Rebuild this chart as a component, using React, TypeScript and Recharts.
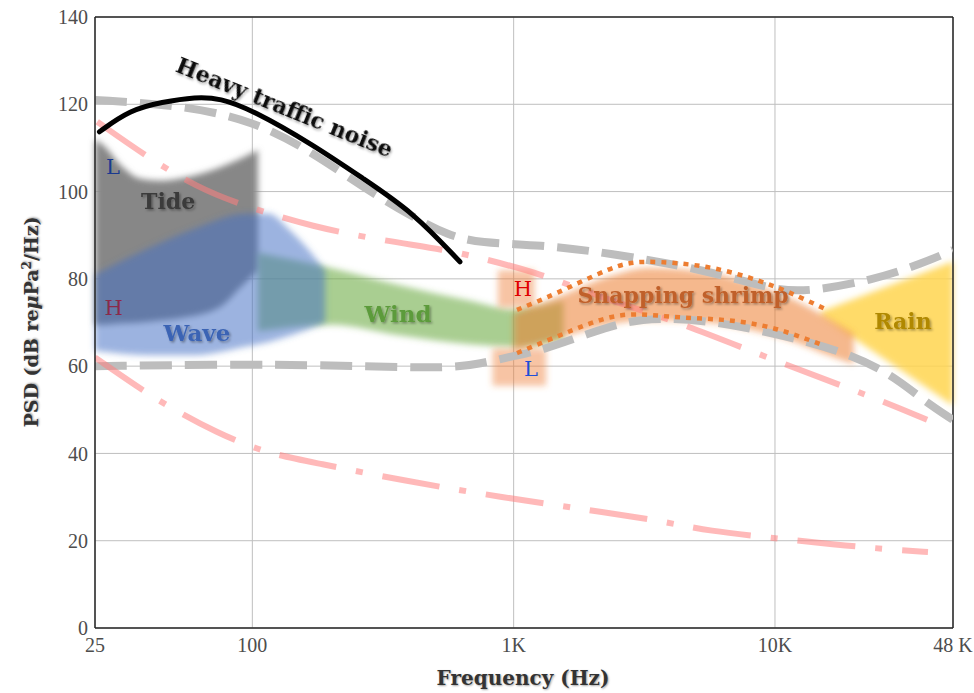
import React from "react";
import {
  Area,
  CartesianGrid,
  ComposedChart,
  Line,
  ReferenceDot,
  ReferenceLine,
  XAxis,
  YAxis,
} from "recharts";

// [frequency Hz, level dB]
type Pt = [number, number];
// [frequency Hz, low dB, high dB]
type Band = [number, number, number];

const X_TICKS = [25, 100, 1000, 10000, 48000];
const X_TICK_LABELS: Record<number, string> = {
  25: "25",
  100: "100",
  1000: "1K",
  10000: "10K",
  48000: "48 K",
};
const Y_TICKS = [0, 20, 40, 60, 80, 100, 120, 140];

// Wenz-style limits (grey dashed)
const WENZ_HIGH: Pt[] = [
  [25, 121], [53, 119.8], [100, 116.4], [170, 109], [265, 101], [410, 94.2],
  [560, 90], [740, 88.2], [1260, 87.8], [2280, 86], [5500, 82], [9800, 77.5],
  [13300, 77], [23700, 79.7], [36900, 83.6], [48000, 86.6],
];
const WENZ_LOW: Pt[] = [
  [25, 60], [100, 60.5], [265, 60], [560, 59.5], [740, 60.5], [1030, 62.5],
  [1260, 63.5], [1960, 67.6], [3050, 71.3], [5500, 70.6], [9800, 67.6],
  [17700, 63.7], [27600, 58.4], [36900, 52.2], [48000, 47.7],
];

// ambient limits (pink dash-dot)
const AMBIENT_HIGH: Pt[] = [
  [25.5, 116], [39.5, 108], [61, 101], [95, 96.5], [171, 91.9], [308, 88.9],
  [556, 86.6], [744, 84.8], [1260, 81.3], [2280, 75.2], [4070, 70.6],
  [9830, 61.4], [23700, 52.9], [38200, 47.7],
];
const AMBIENT_LOW: Pt[] = [
  [25, 62], [38, 54.5], [47, 51], [73, 44.7], [114, 40], [177, 37.8],
  [367, 33.9], [887, 30], [2360, 26.3], [3830, 24.3], [5450, 22.3],
  [10700, 20.4], [17700, 19], [30100, 17.8], [38500, 17.4],
];

const TRAFFIC: Pt[] = [
  [26, 113.7], [34, 118.7], [45, 120.5], [61, 121.7], [75, 121.4],
  [100, 118.7], [171, 110.7], [265, 103], [412, 95.3], [623, 83.9],
];

// snapping shrimp limits (orange dotted)
const SHRIMP_HIGH: Pt[] = [
  [1030, 72.9], [1466, 76.8], [2280, 82], [3240, 83.9], [5500, 82.7],
  [8540, 79.7], [11420, 76.8], [15830, 72.9],
];
const SHRIMP_LOW: Pt[] = [
  [1030, 63], [1690, 68.3], [2620, 71.7], [4070, 71.3], [6330, 70.6],
  [9830, 68.7], [15280, 64.8],
];

// shaded source regions
const TIDE: Band[] = [
  [25, 69.5, 112], [27, 69.5, 110.5], [32, 69.8, 105.5], [37, 70, 103],
  [45, 70.5, 102.5], [53, 71, 103], [75, 73.5, 105.5], [90, 78, 107.5],
  [105, 82, 109.5],
];
const WAVE: Band[] = [
  [25, 63.5, 81], [40, 62.5, 87], [60, 62.5, 91.5], [95, 64.5, 95],
  [115, 65.5, 95], [140, 67, 91], [190, 70, 82],
];
const WIND: Band[] = [
  [105, 68, 86], [200, 69.5, 82.5], [370, 67, 78.5], [680, 65, 75],
  [1000, 64.5, 73], [1550, 66, 75],
];
const SHRIMP: Band[] = [
  [1000, 63.5, 72], [1500, 66.5, 76], [2300, 69.5, 80.5], [3300, 70.5, 82.5],
  [5500, 70, 81.5], [8500, 68, 78.5], [12000, 65.5, 75], [16000, 62.5, 71],
  [20000, 60.5, 67.5],
];
const SHRIMP_H_PATCH: Band[] = [[870, 73.5, 82], [1200, 73.5, 82]];
const SHRIMP_L_PATCH: Band[] = [[830, 55.5, 64], [1330, 55.5, 64]];
const RAIN: Band[] = [[15000, 71.5, 72.5], [48000, 51, 84]];

const line = (pts: Pt[]) => pts.map(([f, v]) => ({ f, v }));
const band = (b: Band[]) => b.map(([f, lo, hi]) => ({ f, v: [lo, hi] }));

const SERIF = "'DejaVu Serif', serif";

function tag(
  text: string,
  color: string,
  size: number,
  weight: "bold" | "normal" = "bold",
  angle = 0
) {
  return (p: any) => (
    <text
      x={p.cx}
      y={p.cy}
      transform={angle ? `rotate(${angle} ${p.cx} ${p.cy})` : undefined}
      textAnchor="middle"
      dominantBaseline="central"
      fill={color}
      fontSize={size}
      fontWeight={weight}
      fontFamily={SERIF}
      filter={weight === "bold" ? "url(#shade)" : undefined}
    >
      {text}
    </text>
  );
}

export default function App() {
  return (
    <div style={{ position: "absolute", left: 0, top: 0, width: 974, height: 693, background: "#fff" }}>
      <style>{`.soft { filter: url(#soft); }`}</style>
      <svg width={0} height={0} style={{ position: "absolute" }}>
        <defs>
          <filter id="soft" x="-20%" y="-20%" width="140%" height="140%">
            <feGaussianBlur stdDeviation="3" />
          </filter>
          <filter id="shade" x="-10%" y="-40%" width="130%" height="180%">
            <feDropShadow dx="1.5" dy="1.5" stdDeviation="1" floodColor="#000" floodOpacity="0.35" />
          </filter>
        </defs>
      </svg>

      <ComposedChart width={974} height={693} margin={{ top: 17, right: 21, bottom: 35, left: 0 }}>
        <CartesianGrid stroke="#bfbfbf" strokeWidth={1} />
        <XAxis
          dataKey="f"
          type="number"
          scale="log"
          domain={[25, 48000]}
          allowDataOverflow
          ticks={X_TICKS}
          interval={0}
          tickFormatter={(v: number) => X_TICK_LABELS[v] ?? String(v)}
          tickSize={0}
          tickMargin={10}
          height={30}
          axisLine={{ stroke: "#262626", strokeWidth: 1.5 }}
          tick={{ fill: "#4d4d4d", fontSize: 20, fontFamily: "'Liberation Serif', serif" }}
        />
        <YAxis
          type="number"
          domain={[0, 140]}
          ticks={Y_TICKS}
          interval={0}
          width={95}
          tickSize={0}
          tickMargin={7}
          axisLine={{ stroke: "#262626", strokeWidth: 1.5 }}
          tick={{ fill: "#4d4d4d", fontSize: 20, fontFamily: "'Liberation Serif', serif" }}
        />
        <ReferenceLine y={140} stroke="#262626" strokeWidth={1.5} />
        <ReferenceLine x={48000} stroke="#262626" strokeWidth={1.5} />

        <Area data={band(TIDE)} dataKey="v" type="monotone" className="soft" fill="#878787" fillOpacity={1} stroke="none" isAnimationActive={false} />
        <Area data={band(WIND)} dataKey="v" type="monotone" className="soft" fill="#70ad47" fillOpacity={0.6} stroke="none" isAnimationActive={false} />
        <Area data={band(WAVE)} dataKey="v" type="monotone" className="soft" fill="#4472c4" fillOpacity={0.53} stroke="none" isAnimationActive={false} />
        <Area data={band(RAIN)} dataKey="v" type="linear" className="soft" fill="#ffd54f" fillOpacity={0.85} stroke="none" isAnimationActive={false} />
        <Area data={band(SHRIMP)} dataKey="v" type="monotone" className="soft" fill="#ed7d31" fillOpacity={0.55} stroke="none" isAnimationActive={false} />
        <Area data={band(SHRIMP_H_PATCH)} dataKey="v" type="linear" className="soft" fill="#ed7d31" fillOpacity={0.45} stroke="none" isAnimationActive={false} />
        <Area data={band(SHRIMP_L_PATCH)} dataKey="v" type="linear" className="soft" fill="#ed7d31" fillOpacity={0.45} stroke="none" isAnimationActive={false} />

        <Line data={line(WENZ_HIGH)} dataKey="v" type="basis" stroke="#bdbdbd" strokeWidth={8} strokeDasharray="32 13" dot={false} activeDot={false} isAnimationActive={false} />
        <Line data={line(WENZ_LOW)} dataKey="v" type="basis" stroke="#bdbdbd" strokeWidth={8} strokeDasharray="32 13" dot={false} activeDot={false} isAnimationActive={false} />
        <Line data={line(AMBIENT_HIGH)} dataKey="v" type="basis" stroke="#ff8080" strokeOpacity={0.55} strokeWidth={6} strokeDasharray="58 20 7 20" dot={false} activeDot={false} isAnimationActive={false} />
        <Line data={line(AMBIENT_LOW)} dataKey="v" type="basis" stroke="#ff8080" strokeOpacity={0.55} strokeWidth={6} strokeDasharray="58 20 7 20" dot={false} activeDot={false} isAnimationActive={false} />
        <Line data={line(SHRIMP_HIGH)} dataKey="v" type="natural" stroke="#ed7d31" strokeWidth={4.5} strokeDasharray="5 6" dot={false} activeDot={false} isAnimationActive={false} />
        <Line data={line(SHRIMP_LOW)} dataKey="v" type="natural" stroke="#ed7d31" strokeWidth={4.5} strokeDasharray="5 6" dot={false} activeDot={false} isAnimationActive={false} />
        <Line data={line(TRAFFIC)} dataKey="v" type="basis" stroke="#000" strokeWidth={5} strokeLinecap="round" dot={false} activeDot={false} isAnimationActive={false} />

        <ReferenceDot x={133} y={119.4} r={0} shape={tag("Heavy traffic noise", "#111", 22, "bold", 22)} />
        <ReferenceDot x={29.3} y={105.6} r={0} shape={tag("L", "#1a3a8f", 21, "normal")} />
        <ReferenceDot x={47.6} y={97.8} r={0} shape={tag("Tide", "#3a3a3a", 22)} />
        <ReferenceDot x={29.5} y={73.3} r={0} shape={tag("H", "#8b2a4a", 21, "normal")} />
        <ReferenceDot x={61.4} y={67.6} r={0} shape={tag("Wave", "#3b64b4", 23)} />
        <ReferenceDot x={361} y={72} r={0} shape={tag("Wind", "#5b9b3a", 23)} />
        <ReferenceDot x={1086} y={77.7} r={0} shape={tag("H", "#e00000", 21, "normal")} />
        <ReferenceDot x={1165} y={59.3} r={0} shape={tag("L", "#1f4fd8", 21, "normal")} />
        <ReferenceDot x={4448} y={76.3} r={0} shape={tag("Snapping shrimp", "#c0602a", 22)} />
        <ReferenceDot x={30900} y={70.3} r={0} shape={tag("Rain", "#b08800", 22)} />
      </ComposedChart>

      <div
        style={{
          position: "absolute",
          left: 523,
          top: 678,
          transform: "translate(-50%, -50%)",
          whiteSpace: "nowrap",
          fontFamily: SERIF,
          fontWeight: "bold",
          fontSize: 20,
          color: "#333",
          textShadow: "1px 1px 2px rgba(0,0,0,0.35)",
        }}
      >
        Frequency (Hz)
      </div>
      <div
        style={{
          position: "absolute",
          left: 31,
          top: 322,
          transform: "translate(-50%, -50%) rotate(-90deg)",
          whiteSpace: "nowrap",
          fontFamily: SERIF,
          fontWeight: "bold",
          fontSize: 19,
          color: "#333",
          textShadow: "1px 1px 2px rgba(0,0,0,0.35)",
        }}
      >
        PSD (dB re<i>μ</i>Pa<sup style={{ fontSize: 12 }}>2</sup>/Hz)
      </div>
    </div>
  );
}
